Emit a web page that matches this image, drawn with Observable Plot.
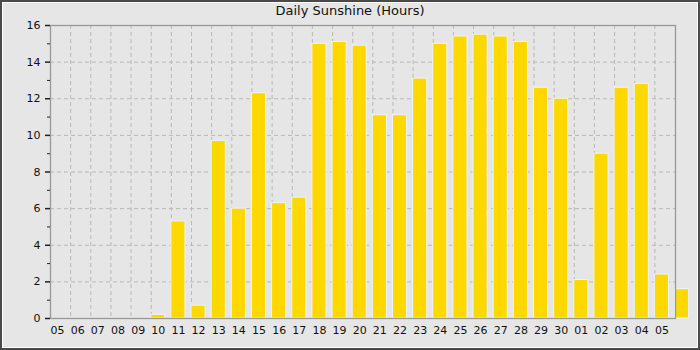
<!DOCTYPE html>
<html>
<head>
<meta charset="utf-8">
<script src="https://cdn.jsdelivr.net/npm/d3@7"></script>
<script src="https://cdn.jsdelivr.net/npm/@observablehq/plot@0.6"></script>
<style>
  html, body { margin: 0; padding: 0; background: #e6e6e6; }
  #wrap { position: relative; width: 700px; height: 350px; background: #e6e6e6; overflow: hidden; }
  #title { position: absolute; left: 0; top: 3px; width: 700px; text-align: center;
           font: 13px "DejaVu Sans", sans-serif; color: #111; }
  #border { position: absolute; left: 0; top: 0; width: 700px; height: 350px; box-sizing: border-box;
            border: 2px solid #4a4a4a; box-shadow: inset 0 0 0 1px #ffffff; pointer-events: none; }
  #chart { position: absolute; left: 0; top: 0; }
</style>
</head>
<body>
<div id="wrap">
  <div id="chart"></div>
  <div id="title">Daily Sunshine (Hours)</div>
  <div id="border"></div>
</div>
<script>
const title = "Daily Sunshine (Hours)";
const days = ["05","06","07","08","09","10","11","12","13","14","15","16","17","18","19","20",
              "21","22","23","24","25","26","27","28","29","30","01","02","03","04","05","06"];
const sunshine = [0,0,0,0,0,0.2,5.3,0.7,9.7,6.0,12.3,6.3,6.6,15.0,15.1,14.9,
                  11.1,11.1,13.1,15.0,15.4,15.5,15.4,15.1,12.6,12.0,2.1,9.0,12.6,12.8,2.4,1.6];
const tickLabels = days.slice(0, 31);
const yMajor = [0,2,4,6,8,10,12,14,16];
const yMinor = [1,3,5,7,9,11,13,15];

const data = days.map((d, i) => ({i, day: d, hours: sunshine[i]}));
const grid = {stroke: "#b8b8b8", strokeOpacity: 1, strokeDasharray: "4,3", strokeWidth: 1};

const chart = Plot.plot({
  width: 700,
  height: 350,
  marginLeft: 50,
  marginRight: 25,
  marginTop: 25,
  marginBottom: 32,
  style: {background: "transparent", fontFamily: "DejaVu Sans, sans-serif", fontSize: "11px", color: "#111"},
  x: {type: "linear", domain: [0, 31], range: [50, 674.5], axis: null},
  y: {domain: [0, 16], axis: null},
  marks: [
    Plot.ruleX(d3.range(1, 31), {...grid}),
    Plot.ruleY(yMajor.filter(v => v > 0 && v < 16), {...grid}),
    Plot.rect(data.filter(d => d.hours > 0), {
      x1: d => d.i, x2: d => d.i + 0.7, y1: 0, y2: "hours",
      fill: "#ffd800", stroke: "#eaf4ff", strokeWidth: 1, clip: false
    }),
    Plot.frame({stroke: "#999", strokeWidth: 1.3}),
    Plot.axisY(yMajor, {label: null, tickSize: 5, tickPadding: 5, stroke: "#222", strokeWidth: 1.5, fill: "#111"}),
    Plot.axisY(yMinor, {label: null, tickSize: 3, text: null, stroke: "#222", strokeWidth: 1}),
    Plot.axisX(d3.range(31).map(i => i + 0.35), {
      label: null, tickSize: 0, tickPadding: 8, fill: "#111",
      tickFormat: v => tickLabels[Math.round(v - 0.35)]
    })
  ]
});
document.getElementById("chart").appendChild(chart);
</script>
</body>
</html>
